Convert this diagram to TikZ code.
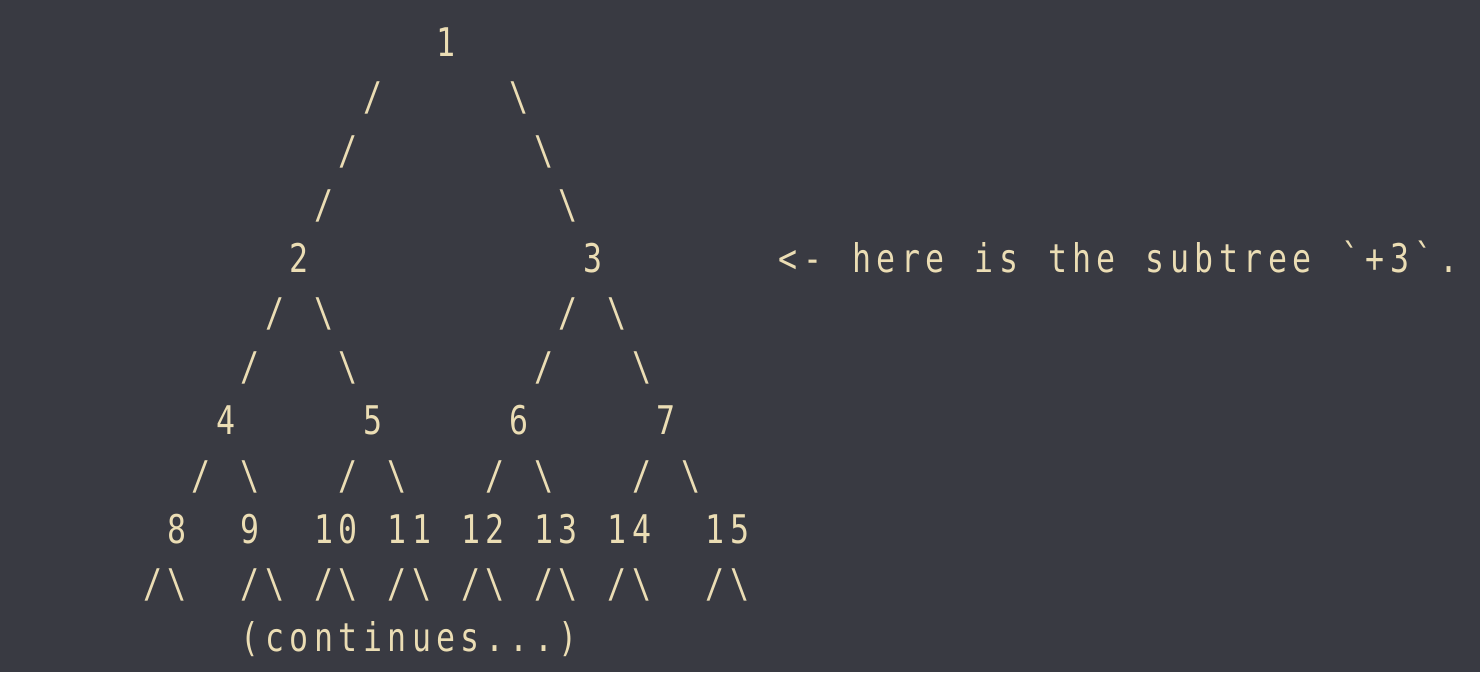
\documentclass[tikz,border=0pt]{standalone}
\usepackage{fontspec}
\setmonofont{DejaVu Sans Mono}[FakeStretch=0.8]
\definecolor{bg}{RGB}{57,58,66}
\definecolor{fg}{RGB}{235,221,180}
\newcommand\pitch{24.46}
\newcommand\bs{\textbackslash}
% every character in a cell of the same width
\makeatletter
\def\cells@a#1{\ifx\relax#1\else\makebox[\pitch pt][c]{#1}\expandafter\cells@a\fi}
\newcommand\cells[1]{\cells@a#1\relax}
\makeatother
\newcommand\tok[4]{\node[tx] (#1) at ({164.77+(#2)*\pitch},{56.7+(#3)*54.04}) {\cells{#4}};}
\begin{document}
\begin{tikzpicture}[x=1pt,y=-1pt,
  tx/.style={anchor=base west,inner sep=0pt,outer sep=0pt,text=fg,
    font=\ttfamily\fontsize{39.5}{48}\selectfont}]
\fill[bg] (0,0) rectangle (1480,672);
\useasboundingbox (0,0) rectangle (1480,672);
% row 0
\tok{n1}{11}{0}{1}
% rows 1-3
\tok{a1}{8}{1}{/}  \tok{b1}{14}{1}{\bs}
\tok{a2}{7}{2}{/}  \tok{b2}{15}{2}{\bs}
\tok{a3}{6}{3}{/}  \tok{b3}{16}{3}{\bs}
% row 4
\tok{n2}{5}{4}{2}
\tok{n3}{17}{4}{3}
\tok{note}{25}{4}{<-~here~is~the~subtree~`+3`.}
% rows 5-6
\tok{c1}{4}{5}{/}  \tok{d1}{6}{5}{\bs}  \tok{e1}{16}{5}{/}  \tok{f1}{18}{5}{\bs}
\tok{c2}{3}{6}{/}  \tok{d2}{7}{6}{\bs}  \tok{e2}{15}{6}{/}  \tok{f2}{19}{6}{\bs}
% row 7
\tok{n4}{2}{7}{4}
\tok{n5}{8}{7}{5}
\tok{n6}{14}{7}{6}
\tok{n7}{20}{7}{7}
% row 8
\tok{g1}{1}{8}{/}  \tok{g2}{3}{8}{\bs}
\tok{g3}{7}{8}{/}  \tok{g4}{9}{8}{\bs}
\tok{g5}{13}{8}{/} \tok{g6}{15}{8}{\bs}
\tok{g7}{19}{8}{/} \tok{g8}{21}{8}{\bs}
% row 9
\tok{n8}{0}{9}{8}
\tok{n9}{3}{9}{9}
\tok{n10}{6}{9}{10}
\tok{n11}{9}{9}{11}
\tok{n12}{12}{9}{12}
\tok{n13}{15}{9}{13}
\tok{n14}{18}{9}{14}
\tok{n15}{22}{9}{15}
% row 10
\tok{h8}{-1}{10}{/\bs}
\tok{h9}{3}{10}{/\bs}
\tok{h10}{6}{10}{/\bs}
\tok{h11}{9}{10}{/\bs}
\tok{h12}{12}{10}{/\bs}
\tok{h13}{15}{10}{/\bs}
\tok{h14}{18}{10}{/\bs}
\tok{h15}{22}{10}{/\bs}
% row 11
\tok{cont}{3}{11}{(continues...)}
\end{tikzpicture}
\end{document}
